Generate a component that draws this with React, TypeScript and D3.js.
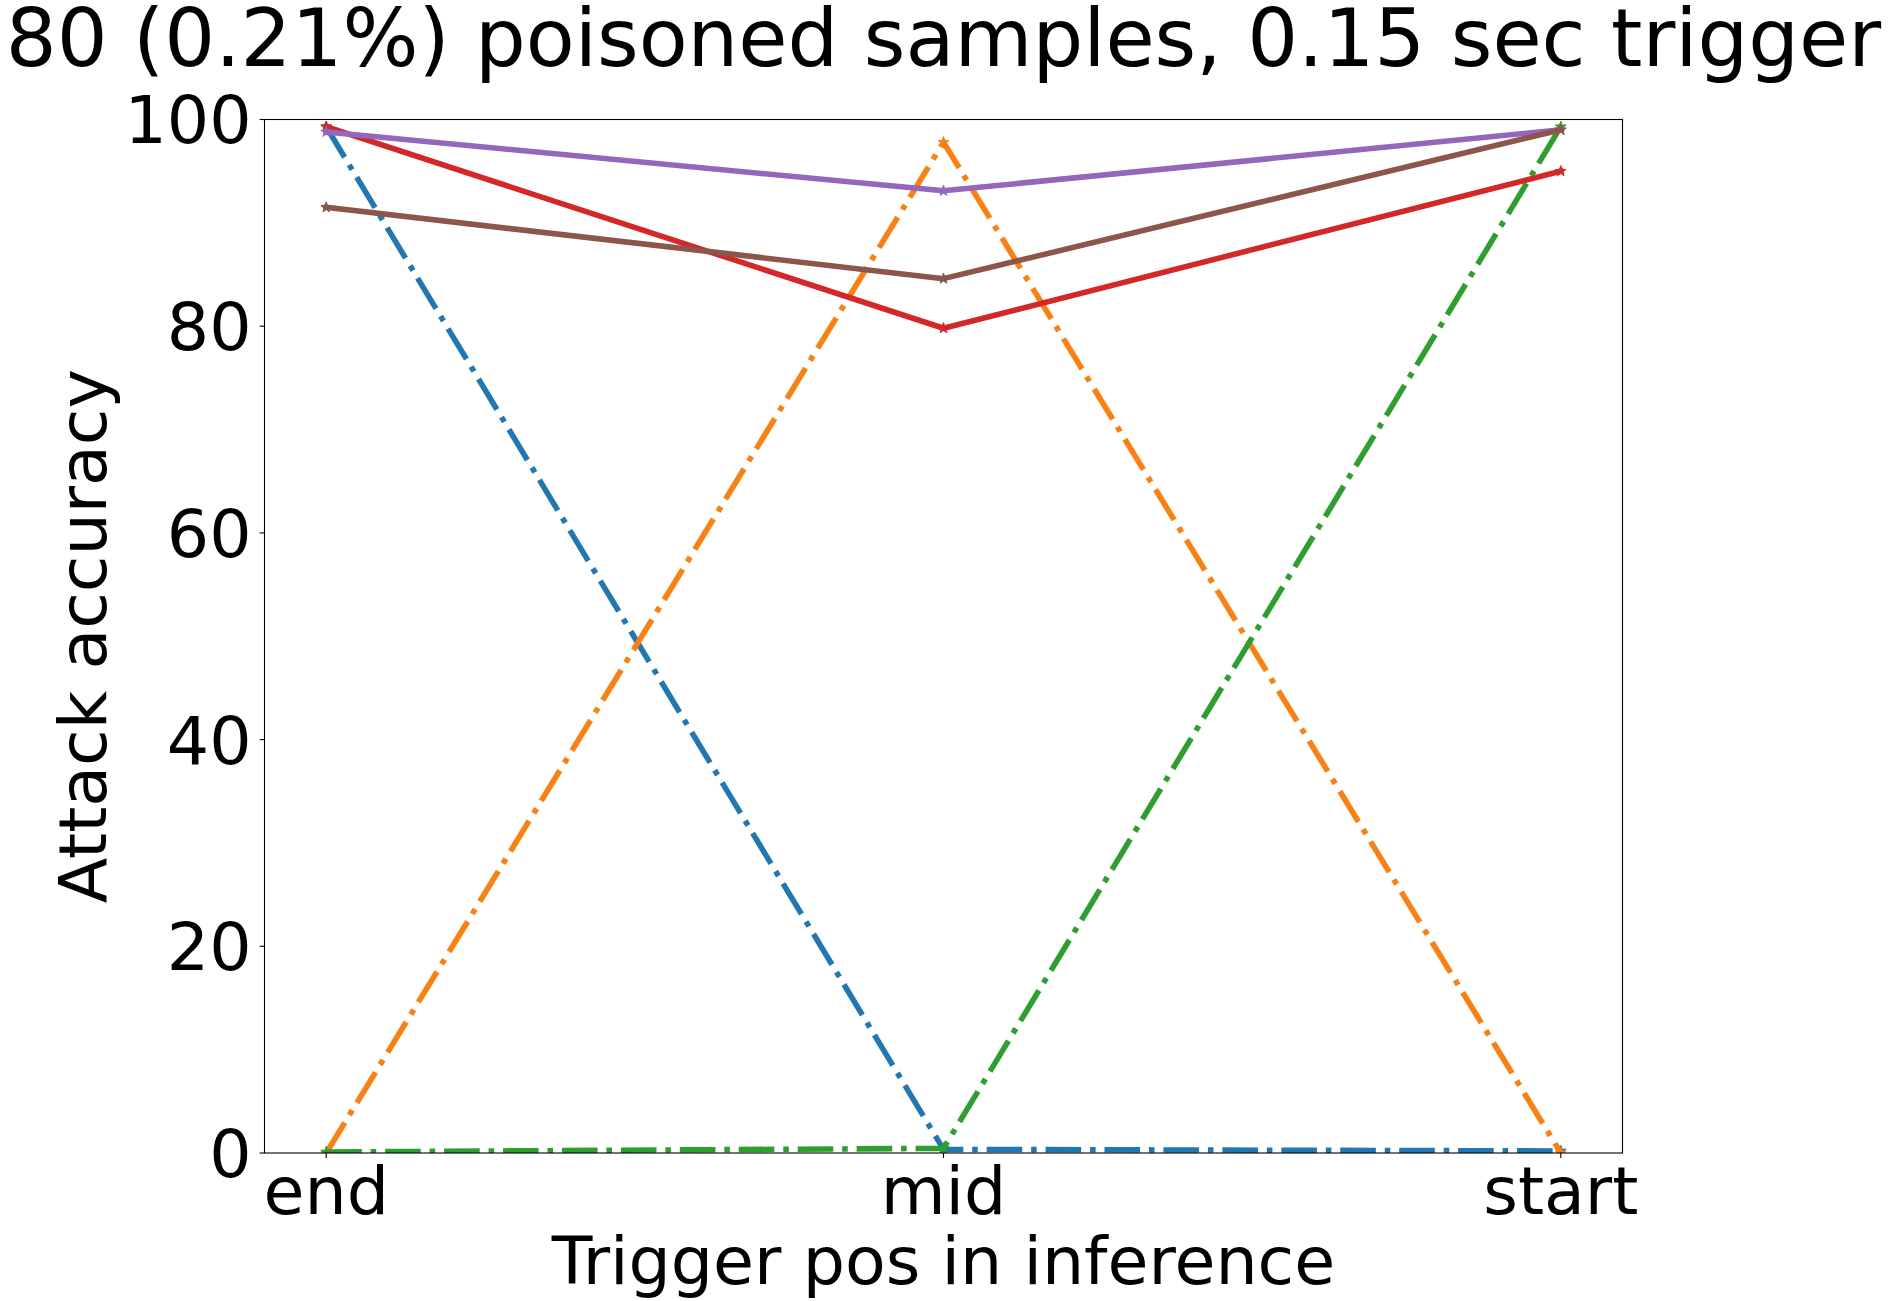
import React from "react";
import * as d3 from "d3";

const categories = ["end", "mid", "start"];
const blueSeries = [99.3, 0.35, 0.2];
const orangeSeries = [0.0, 97.8, 0.0];
const greenSeries = [0.1, 0.45, 99.3];
const redSeries = [99.3, 79.8, 95.0];
const purpleSeries = [98.8, 93.1, 99.0];
const brownSeries = [91.5, 84.6, 99.0];
const yTicks = [0, 20, 40, 60, 80, 100];
const titleText = "80 (0.21%) poisoned samples, 0.15 sec trigger";
const xLabel = "Trigger pos in inference";
const yLabel = "Attack accuracy";

const W = 1889;
const H = 1301;
const left = 264.5;
const right = 1622.5;
const top = 119.5;
const bottom = 1153;
const FONT = "DejaVu Sans";
const lw = 5.56;
const dashDot = `${6.4 * lw},${1.6 * lw},${1 * lw},${1.6 * lw}`;

const series = [
  { values: blueSeries, color: "#1f77b4", dash: dashDot },
  { values: orangeSeries, color: "#ff7f0e", dash: dashDot },
  { values: greenSeries, color: "#2ca02c", dash: dashDot },
  { values: redSeries, color: "#d62728", dash: null },
  { values: purpleSeries, color: "#9467bd", dash: null },
  { values: brownSeries, color: "#8c564b", dash: null },
];

export default function App() {
  const x = d3.scaleLinear().domain([-0.1, 2.1]).range([left, right]);
  const y = d3.scaleLinear().domain([0, 100]).range([bottom, top]);
  const line = d3
    .line<number>()
    .x((_, i) => x(i))
    .y((d) => y(d));
  const star = d3.symbol().type(d3.symbolStar).size(36)();
  const tickLen = 4.9;
  const tickFs = 66.6;

  return (
    <svg
      width={W}
      height={H}
      style={{ position: "absolute", left: 0, top: 0, background: "#fff" }}
      fontFamily={FONT}
    >
      <rect x={0} y={0} width={W} height={H} fill="#fff" />
      <defs>
        <clipPath id="axclip">
          <rect x={left} y={top} width={right - left} height={bottom - top} />
        </clipPath>
      </defs>
      <g clipPath="url(#axclip)">
        {series.map((s, si) => (
          <g key={si}>
            <path
              d={line(s.values) || ""}
              fill="none"
              stroke={s.color}
              strokeWidth={lw}
              strokeDasharray={s.dash || undefined}
              strokeLinecap={s.dash ? "butt" : "square"}
              strokeLinejoin="round"
            />
            {s.values.map((v, i) => (
              <path
                key={i}
                d={star || ""}
                transform={`translate(${x(i)},${y(v)})`}
                fill={s.color}
                stroke={s.color}
                strokeWidth={1}
              />
            ))}
          </g>
        ))}
      </g>
      <rect
        x={left}
        y={top}
        width={right - left}
        height={bottom - top}
        fill="none"
        stroke="#000"
        strokeWidth={1.1}
      />
      {yTicks.map((t) => (
        <g key={t}>
          <line
            x1={left - tickLen}
            x2={left}
            y1={y(t)}
            y2={y(t)}
            stroke="#000"
            strokeWidth={1.1}
          />
          <text
            x={left - tickLen - 8}
            y={y(t)}
            dy="0.36em"
            textAnchor="end"
            fontSize={tickFs}
            fill="#000"
          >
            {t}
          </text>
        </g>
      ))}
      {categories.map((c, i) => (
        <g key={c}>
          <line
            x1={x(i)}
            x2={x(i)}
            y1={bottom}
            y2={bottom + tickLen}
            stroke="#000"
            strokeWidth={1.1}
          />
          <text
            x={x(i)}
            y={1214}
            textAnchor="middle"
            fontSize={tickFs}
            fill="#000"
          >
            {c}
          </text>
        </g>
      ))}
      <text
        x={(left + right) / 2}
        y={1284}
        textAnchor="middle"
        fontSize={tickFs}
        fill="#000"
      >
        {xLabel}
      </text>
      <text
        transform={`translate(106,${(top + bottom) / 2}) rotate(-90)`}
        textAnchor="middle"
        fontSize={tickFs}
        fill="#000"
      >
        {yLabel}
      </text>
      <text
        x={(left + right) / 2}
        y={66}
        textAnchor="middle"
        fontSize={80}
        fill="#000"
      >
        {titleText}
      </text>
    </svg>
  );
}
